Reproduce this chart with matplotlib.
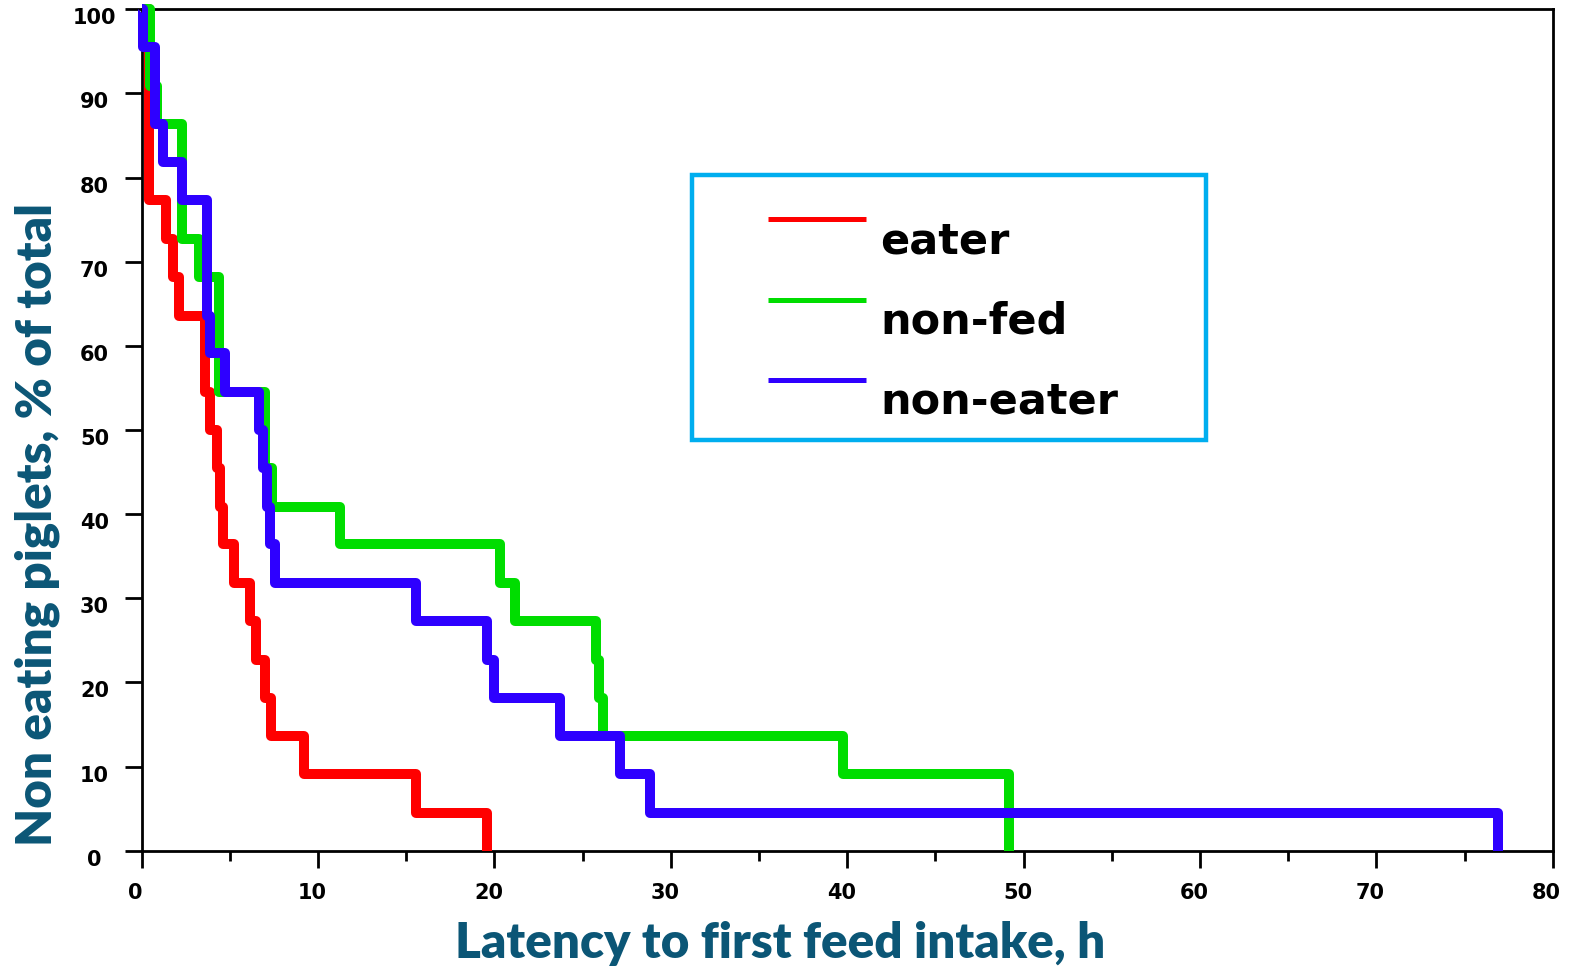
import matplotlib
matplotlib.use("Agg")
import matplotlib.pyplot as plt
import matplotlib.transforms as mtransforms
from matplotlib.patches import Rectangle

# ── Survival (non-eating) curves: time of step, % still not eating ─────
eater_t = [0, 0.4, 1.4, 1.8, 2.1, 3.6, 3.85, 4.25, 4.45, 4.6, 5.25, 6.15,
           6.5, 7.0, 7.35, 9.2, 15.55, 19.6]
eater_s = [100, 77.3, 72.7, 68.2, 63.6, 54.5, 50.0, 45.5, 40.9, 36.4, 31.8,
           27.3, 22.7, 18.2, 13.6, 9.1, 4.5, 0]

nonfed_t = [0, 0.45, 0.85, 2.3, 3.25, 4.4, 7.0, 7.4, 11.25, 20.3, 21.15,
            25.75, 25.95, 26.15, 39.75, 49.15]
nonfed_s = [100, 90.9, 86.4, 72.7, 68.2, 54.5, 45.5, 40.9, 36.4, 31.8, 27.3,
            22.7, 18.2, 13.6, 9.1, 0]

noneater_t = [0, 0.05, 0.75, 1.2, 2.3, 3.7, 3.9, 4.75, 6.65, 6.9, 7.1, 7.3,
              7.55, 15.55, 19.55, 19.95, 23.7, 27.1, 28.8, 76.9]
noneater_s = [100, 95.5, 86.4, 81.8, 77.3, 63.6, 59.1, 54.5, 50.0, 45.5, 40.9,
              36.4, 31.8, 27.3, 22.7, 18.2, 13.6, 9.1, 4.5, 0]

groups = ["eater", "non-fed", "non-eater"]
RED, GREEN, BLUE = "#ff0000", "#00dd00", "#2e00ff"
colors = [RED, GREEN, BLUE]
LABEL_C = "#0b5676"

fig = plt.figure(figsize=(15.74, 9.73), dpi=100)
ax = fig.add_axes([141.7 / 1574, 1 - 850.7 / 973, 1411 / 1574, 841.4 / 973])

for t, s, c in zip([eater_t, nonfed_t, noneater_t],
                   [eater_s, nonfed_s, noneater_s], colors):
    ax.step(t, s, where="post", color=c, lw=7.2, clip_on=False,
            solid_joinstyle="round", solid_capstyle="butt", zorder=3)

ax.set_xlim(0, 80)
ax.set_ylim(0, 100)
ax.set_xticks(range(0, 81, 10))
ax.set_xticks(range(5, 80, 10), minor=True)
ax.set_yticks(range(0, 101, 10))

for sp in ax.spines.values():
    sp.set_linewidth(2)
    sp.set_color("black")
ax.tick_params(axis="both", which="major", length=12, width=2, direction="out",
               labelsize=15)
ax.tick_params(axis="x", which="major", pad=11)
ax.tick_params(axis="y", which="major", pad=22)
ax.tick_params(axis="x", which="minor", length=7, width=2, direction="out")
for lab in ax.get_xticklabels() + ax.get_yticklabels():
    lab.set_fontweight("bold")
    lab.set_fontfamily("DejaVu Sans")
# y labels are centred in their column and sit a little below the ticks
dy = mtransforms.ScaledTranslation(0, -7 / 100, fig.dpi_scale_trans)
for lab in ax.get_yticklabels():
    lab.set_horizontalalignment("center")
    lab.set_transform(lab.get_transform() + dy)
dx = mtransforms.ScaledTranslation(-6 / 100, 0, fig.dpi_scale_trans)
for lab in ax.get_xticklabels():
    lab.set_transform(lab.get_transform() + dx)

lab_font = dict(family=["Lato", "DejaVu Sans"],
                fontweight="heavy", color=LABEL_C, fontsize=35.5)
fig.text(780 / 1574, 1 - 943 / 973, "Latency to first feed intake, h",
         ha="center", va="center", **lab_font)
fig.text(37 / 1574, 1 - 525 / 973, "Non eating piglets, % of total",
         ha="center", va="center", rotation=90, **lab_font)

# ── Hand-built legend box ──────────────────────────────────────────
def ax_x(px):
    return (px - 141.7) / 1411

def ax_y(py):
    return (850.7 - py) / 841.4

ax.add_patch(Rectangle((ax_x(692), ax_y(440)), ax_x(1206) - ax_x(692),
                       ax_y(175) - ax_y(440), transform=ax.transAxes,
                       fill=False, edgecolor="#00aeef", lw=3.2, zorder=4))
for name, c, ly, ty in zip(groups, colors, [219, 300, 380], [253, 334, 414]):
    ax.plot([ax_x(768), ax_x(866)], [ax_y(ly)] * 2, transform=ax.transAxes,
            color=c, lw=3.6, solid_capstyle="butt", zorder=4)
    ax.text(ax_x(880), ax_y(ty), name, transform=ax.transAxes,
            fontsize=31, fontweight="bold", family="DejaVu Sans",
            ha="left", va="baseline", zorder=4)

fig.savefig("out.png", dpi=100)
